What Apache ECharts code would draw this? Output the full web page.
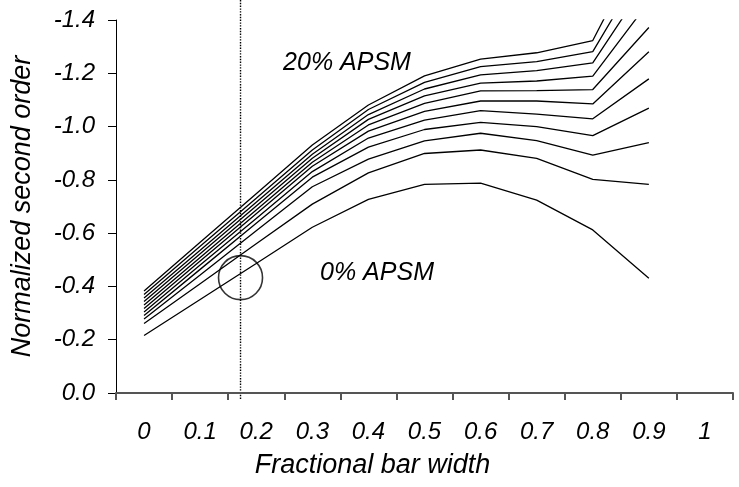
<!DOCTYPE html>
<html>
<head>
<meta charset="utf-8">
<script src="https://cdn.jsdelivr.net/npm/echarts@6/dist/echarts.min.js"></script>
<style>
  html, body { margin: 0; padding: 0; background: #fff; }
  #chart { width: 739px; height: 487px; }
</style>
</head>
<body>
<div id="chart"></div>
<script>
// Fractional bar width categories (band centres carry the data points)
const xLabels = ['0', '0.1', '0.2', '0.3', '0.4', '0.5', '0.6', '0.7', '0.8', '0.9', '1'];

// Normalized second order vs. fractional bar width, one curve per APSM level
const apsm0  = [-0.216, -0.351, -0.486, -0.622, -0.727, -0.783, -0.788, -0.724, -0.612, -0.431];
const apsm2  = [-0.261, -0.410, -0.560, -0.709, -0.826, -0.899, -0.912, -0.881, -0.802, -0.783];
const apsm4  = [-0.278, -0.443, -0.609, -0.774, -0.878, -0.946, -0.975, -0.947, -0.893, -0.940];
const apsm6  = [-0.291, -0.464, -0.637, -0.810, -0.923, -0.989, -1.016, -1.000, -0.966, -1.069];
const apsm8  = [-0.304, -0.480, -0.655, -0.831, -0.957, -1.024, -1.060, -1.047, -1.029, -1.179];
const apsm10 = [-0.317, -0.495, -0.673, -0.851, -0.983, -1.057, -1.096, -1.096, -1.085, -1.281];
const apsm12 = [-0.330, -0.509, -0.687, -0.866, -1.006, -1.087, -1.134, -1.135, -1.139, -1.372];
const apsm14 = [-0.343, -0.523, -0.702, -0.881, -1.027, -1.115, -1.163, -1.171, -1.189, -1.468];
const apsm16 = [-0.357, -0.536, -0.716, -0.896, -1.045, -1.141, -1.194, -1.210, -1.239, -1.556];
const apsm18 = [-0.370, -0.551, -0.731, -0.912, -1.064, -1.166, -1.225, -1.244, -1.281, -1.636];
const apsm20 = [-0.383, -0.566, -0.748, -0.931, -1.081, -1.190, -1.253, -1.277, -1.323, -1.730];

const curves = [apsm0, apsm2, apsm4, apsm6, apsm8, apsm10, apsm12, apsm14, apsm16, apsm18, apsm20];

// Operating point: bar width and second-order value of the circled 0% APSM point
const markerX = 0.172;
const markerY = -0.433;

const FONT = "'Liberation Sans', Arial, Helvetica, sans-serif";

const chart = echarts.init(document.getElementById('chart'), null, { renderer: 'canvas' });

const lineSeries = curves.map((vals, i) => ({
  name: (i * 2) + '% APSM',
  type: 'line',
  xAxisIndex: 0,
  yAxisIndex: 0,
  data: vals,
  symbol: 'none',
  clip: true,
  silent: true,
  lineStyle: { color: '#000', width: 1.3 }
}));

chart.setOption({
  animation: false,
  backgroundColor: '#fff',
  grid: { left: 116, top: 20, right: 6, bottom: 94, containLabel: false },
  xAxis: [
    {
      type: 'category',
      data: xLabels,
      boundaryGap: true,
      name: 'Fractional bar width',
      nameLocation: 'middle',
      nameGap: 59,
      nameTextStyle: {
        fontFamily: FONT, fontStyle: 'italic', fontSize: 27, color: '#000',
        padding: [0, 104, 0, 0]
      },
      axisLine: { show: true, onZero: false, lineStyle: { color: '#555', width: 2 } },
      axisTick: { show: true, inside: false, length: 7, alignWithLabel: false, lineStyle: { color: '#555', width: 2 } },
      axisLabel: {
        show: true, interval: 0, margin: 27,
        fontFamily: FONT, fontStyle: 'italic', fontSize: 24, color: '#000'
      },
      splitLine: { show: false }
    },
    {
      type: 'value',
      min: -0.05,
      max: 1.05,
      show: false,
      axisLine: { onZero: false }
    }
  ],
  yAxis: {
    type: 'value',
    inverse: true,
    min: -1.4,
    max: 0,
    interval: 0.2,
    name: 'Normalized second order',
    nameLocation: 'middle',
    nameGap: 80,
    nameRotate: 90,
    nameTextStyle: { fontFamily: FONT, fontStyle: 'italic', fontSize: 27, color: '#000' },
    axisLine: { show: true, onZero: false, lineStyle: { color: '#000', width: 1 } },
    axisTick: { show: true, inside: false, length: 8, lineStyle: { color: '#000', width: 1 } },
    axisLabel: {
      margin: 21,
      fontFamily: FONT, fontStyle: 'italic', fontSize: 24, color: '#000',
      formatter: v => v.toFixed(1)
    },
    splitLine: { show: false }
  },
  series: lineSeries.concat([
    {
      name: 'operating point',
      type: 'scatter',
      xAxisIndex: 1,
      yAxisIndex: 0,
      data: [[markerX, markerY]],
      symbol: 'circle',
      symbolSize: 44,
      silent: true,
      itemStyle: { color: 'rgba(0,0,0,0)', borderColor: '#000', borderWidth: 1.6 }
    }
  ])
});

// Dotted guide through the operating point, running past the plot edges
const guideX = chart.convertToPixel({ xAxisIndex: 1 }, markerX);

chart.setOption({
  graphic: [
    {
      type: 'line',
      silent: true,
      shape: { x1: guideX, y1: 0, x2: guideX, y2: 400 },
      style: { stroke: '#000', lineWidth: 1.4, lineDash: [1.4, 1.4] }
    },
    {
      type: 'text',
      silent: true,
      x: 347, y: 63,
      style: {
        text: '20% APSM', fill: '#000',
        font: 'italic 25px ' + FONT,
        align: 'center', verticalAlign: 'middle'
      }
    },
    {
      type: 'text',
      silent: true,
      x: 377, y: 273,
      style: {
        text: '0% APSM', fill: '#000',
        font: 'italic 25px ' + FONT,
        align: 'center', verticalAlign: 'middle'
      }
    }
  ]
});
</script>
</body>
</html>
